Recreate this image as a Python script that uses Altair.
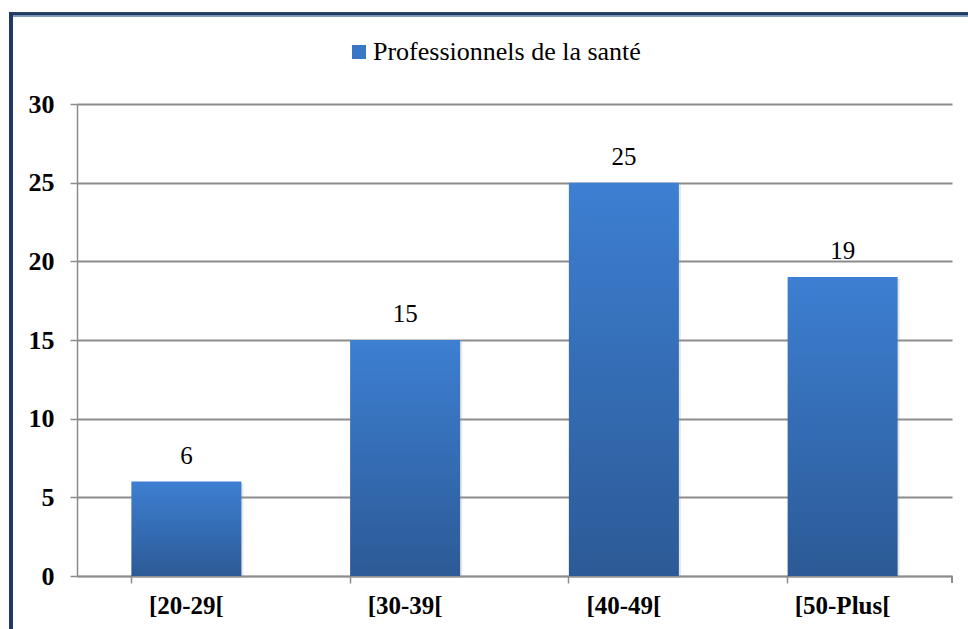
import altair as alt
import pandas as pd

# Age groups and counts of health professionals
categories = ["[20-29[", "[30-39[", "[40-49[", "[50-Plus["]
values = [6, 15, 25, 19]
series_name = "Professionnels de la santé"
y_ticks = [0, 5, 10, 15, 20, 25, 30]

df = pd.DataFrame({"age": categories, "n": values, "serie": [series_name] * len(categories)})

W, H = 875, 472
SERIF = "Liberation Serif"
GRID = "#8c8c8c"
FRAME = "#1f3b63"

bar_fill = alt.Gradient(
    gradient="linear",
    stops=[alt.GradientStop(color="#3d7fd2", offset=0),
           alt.GradientStop(color="#2c5a96", offset=1)],
    x1=0, x2=0, y1=0, y2=1,
)

x_enc = alt.X(
    "age:N", sort=categories, title=None,
    scale=alt.Scale(paddingInner=0.497, paddingOuter=0.2485),
    axis=alt.Axis(labelAngle=0, labelFont=SERIF, labelFontWeight="bold", labelFontSize=25,
                  labelColor="black", labelPadding=10, domainColor=GRID, domainWidth=1.5,
                  tickColor=GRID, tickWidth=1.5, tickSize=7, bandPosition=0, grid=False),
)
y_enc = alt.Y(
    "n:Q", title=None,
    scale=alt.Scale(domain=[0, 30], nice=False),
    axis=alt.Axis(values=y_ticks, labelFont=SERIF, labelFontWeight="bold", labelFontSize=26,
                  labelColor="black", labelPadding=16, domainColor=GRID, domainWidth=1.5,
                  tickColor=GRID, tickWidth=1.5, tickSize=7, gridColor=GRID, gridWidth=1.8),
)

shadow = alt.Chart(df).mark_bar(color="#9a9a9a", opacity=0.25, xOffset=2, yOffset=2).encode(
    x=x_enc, y=y_enc
)

bars = alt.Chart(df).mark_bar(color=bar_fill).encode(x=x_enc, y=y_enc)

legend_pts = alt.Chart(df).mark_square(opacity=0, size=1).encode(
    x=x_enc, y=y_enc,
    color=alt.Color("serie:N", title=None,
                    scale=alt.Scale(range=["#3a76c6"]),
                    legend=alt.Legend(orient="none", legendX=269, legendY=-65, padding=0,
                                      symbolType="square", symbolSize=196, symbolOpacity=1,
                                      symbolStrokeWidth=0, labelFont=SERIF, labelFontSize=26,
                                      labelColor="black", labelOffset=1, labelLimit=600)),
)

labels = alt.Chart(df).mark_text(font=SERIF, fontSize=25, color="black", dy=-26,
                                 baseline="middle").encode(
    x=x_enc, y=y_enc, text="n:Q"
)

# closing tick at the right end of the x axis
end_tick = alt.Chart(df).mark_rule(color=GRID, strokeWidth=1.5).encode(
    x=alt.value(W), y=alt.value(H), y2=alt.value(H + 7)
)

# dark blue frame around the chart
frame_left = alt.Chart(df).mark_rule(color=FRAME, strokeWidth=4).encode(
    x=alt.value(-66), y=alt.value(-92), y2=alt.value(H + 60)
)
frame_top = alt.Chart(df).mark_rule(color=FRAME, strokeWidth=3).encode(
    x=alt.value(-68), x2=alt.value(W + 30), y=alt.value(-90)
)
frame_top_light = alt.Chart(df).mark_rule(color="#7f97b8", strokeWidth=1).encode(
    x=alt.value(-64), x2=alt.value(W + 30), y=alt.value(-88)
)

chart = alt.layer(
    shadow, bars, labels, legend_pts, end_tick, frame_left, frame_top, frame_top_light
).properties(
    width=W, height=H,
    autosize=alt.AutoSizeParams(type="none"),
    padding={"left": 77, "top": 104, "right": 16, "bottom": 53},
    background="white",
).configure_view(stroke=None)

chart.save("out.html", embed_options={"renderer": "svg", "actions": False})
